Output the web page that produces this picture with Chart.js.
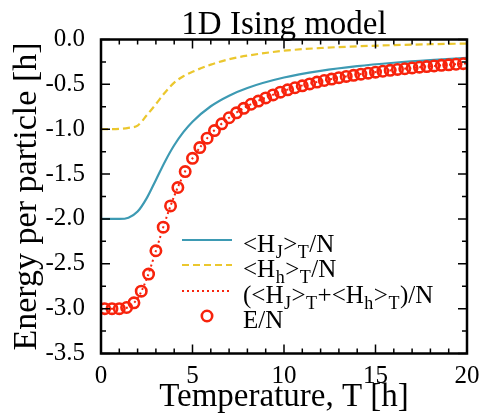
<!DOCTYPE html>
<html>
<head>
<meta charset="utf-8">
<script src="https://cdn.jsdelivr.net/npm/chart.js@4.4.0/dist/chart.umd.min.js"></script>
<style>
  html, body { margin: 0; padding: 0; background: #fff; }
  #wrap { width: 485px; height: 415px; position: relative; }
</style>
</head>
<body>
<div id="wrap"><canvas id="isingChart"></canvas></div>
<script>
// temperatures for the smooth curves
const lineTemps = [0, 0.5, 1, 1.5, 2, 2.5, 3, 3.5, 4, 4.5, 5, 6, 7, 8, 10, 12, 14, 16, 18, 20];
// <H_J>_T / N
const bondEnergy = [-2.0, -2.0, -2.0, -1.986, -1.918, -1.768, -1.565, -1.359, -1.179, -1.033, -0.916,
  -0.744, -0.626, -0.540, -0.424, -0.350, -0.297, -0.259, -0.229, -0.205];
// <H_h>_T / N
const fieldEnergy = [-1.0, -1.0, -0.997, -0.985, -0.96, -0.845, -0.72, -0.59, -0.48, -0.41, -0.36,
  -0.28, -0.22, -0.18, -0.125, -0.095, -0.076, -0.063, -0.053, -0.045];
// (<H_J>_T + <H_h>_T) / N
const sumEnergy = [-3.0, -3.0, -3.0, -2.981, -2.886, -2.666, -2.355, -2.031, -1.745, -1.511, -1.325,
  -1.054, -0.872, -0.742, -0.572, -0.465, -0.392, -0.339, -0.298, -0.266];

// E/N markers
const pointTemps = [0.2, 0.6, 1.0, 1.4, 1.8, 2.2, 2.6, 3.0, 3.4, 3.8, 4.2, 4.6, 5.0, 5.4, 5.8, 6.2, 6.6,
  7.0, 7.4, 7.8, 8.2, 8.6, 9.0, 9.4, 9.8, 10.2, 10.6, 11.0, 11.4, 11.8, 12.2, 12.6, 13.0, 13.4, 13.8,
  14.2, 14.6, 15.0, 15.4, 15.8, 16.2, 16.6, 17.0, 17.4, 17.8, 18.2, 18.6, 19.0, 19.4, 19.8];
const totalEnergy = [-3.0, -3.0, -3.0, -2.987, -2.935, -2.805, -2.615, -2.355, -2.092, -1.855, -1.65,
  -1.472, -1.325, -1.205, -1.10, -1.015, -0.94, -0.872, -0.817, -0.767, -0.722, -0.686, -0.651, -0.618,
  -0.587, -0.561, -0.538, -0.516, -0.495, -0.475, -0.457, -0.441, -0.426, -0.412, -0.399, -0.386,
  -0.375, -0.364, -0.354, -0.344, -0.334, -0.326, -0.317, -0.309, -0.3015, -0.295, -0.288, -0.282,
  -0.276, -0.270];

const xTicks = [0, 5, 10, 15, 20];
const yTicks = [-3.5, -3.0, -2.5, -2.0, -1.5, -1.0, -0.5, 0.0];
const chartTitle = '1D Ising model';

const SERIF = '"Liberation Serif", "Times New Roman", serif';
const TEAL = '#3d9ab3';
const GOLD = '#ebc72e';
const RED = '#f7230c';

const toXY = (xs, ys) => xs.map((x, i) => ({ x: x, y: ys[i] }));

// legend with subscripts, drawn on the canvas
const legendRows = [
  { parts: [['<H', 0], ['J', 1], ['>', 0], ['T', 1], ['/N', 0]], ds: 0 },
  { parts: [['<H', 0], ['h', 1], ['>', 0], ['T', 1], ['/N', 0]], ds: 1 },
  { parts: [['(<H', 0], ['J', 1], ['>', 0], ['T', 1], ['+<H', 0], ['h', 1], ['>', 0], ['T', 1], [')/N', 0]], ds: 2 },
  { parts: [['E/N', 0]], ds: 3 },
];

const legendPlugin = {
  id: 'isingLegend',
  afterDatasetsDraw(chart) {
    const ctx = chart.ctx;
    const size = 25;
    const x0 = 243;
    const baselines = [252, 277, 303, 328];
    ctx.save();
    legendRows.forEach((row, r) => {
      const ds = chart.data.datasets[row.ds];
      const yb = baselines[r];
      const ym = yb - 12;
      if (row.ds < 3) {
        ctx.beginPath();
        ctx.strokeStyle = ds.borderColor;
        ctx.lineWidth = ds.borderWidth;
        ctx.setLineDash(ds.borderDash || []);
        ctx.moveTo(182, ym);
        ctx.lineTo(232, ym);
        ctx.stroke();
        ctx.setLineDash([]);
      } else {
        ctx.beginPath();
        ctx.strokeStyle = ds.pointBorderColor;
        ctx.lineWidth = ds.pointBorderWidth;
        ctx.arc(207, ym, ds.pointRadius, 0, Math.PI * 2);
        ctx.stroke();
      }
      let x = x0;
      ctx.fillStyle = '#000';
      ctx.textBaseline = 'alphabetic';
      ctx.textAlign = 'left';
      row.parts.forEach(([txt, sub]) => {
        const fs = sub ? Math.round(size * 0.72) : size;
        ctx.font = fs + 'px ' + SERIF;
        ctx.fillText(txt, x, yb + (sub ? 6 : 0));
        x += ctx.measureText(txt).width + 0.5;
      });
    });
    ctx.restore();
  }
};

// title centred over the plot area
const titlePlugin = {
  id: 'areaTitle',
  afterDraw(chart) {
    const ctx = chart.ctx;
    const { left, right } = chart.chartArea;
    ctx.save();
    ctx.fillStyle = '#000';
    ctx.font = '33px ' + SERIF;
    ctx.textAlign = 'center';
    ctx.textBaseline = 'alphabetic';
    ctx.fillText(chartTitle, (left + right) / 2, 34);
    ctx.restore();
  }
};

// frame and inward ticks on all four sides
const framePlugin = {
  id: 'frameTicks',
  afterDraw(chart) {
    const ctx = chart.ctx;
    const { left, right, top, bottom } = chart.chartArea;
    const xs = chart.scales.x;
    const ys = chart.scales.y;
    ctx.save();
    ctx.strokeStyle = '#000';
    ctx.lineWidth = 1.5;
    ctx.beginPath();
    for (let v = 0; v <= 20; v += 1) {
      const px = xs.getPixelForValue(v);
      const len = v % 5 === 0 ? 9 : 5;
      ctx.moveTo(px, bottom); ctx.lineTo(px, bottom - len);
      ctx.moveTo(px, top); ctx.lineTo(px, top + len);
    }
    for (let k = 0; k <= 14; k++) {
      const v = -3.5 + k * 0.25;
      const py = ys.getPixelForValue(v);
      const len = k % 2 === 0 ? 9 : 5;
      ctx.moveTo(left, py); ctx.lineTo(left + len, py);
      ctx.moveTo(right, py); ctx.lineTo(right - len, py);
    }
    ctx.stroke();
    ctx.lineWidth = 2.5;
    ctx.strokeRect(left, top, right - left, bottom - top);
    ctx.restore();
  }
};

new Chart(document.getElementById('isingChart'), {
  type: 'scatter',
  data: {
    datasets: [
      {
        label: '<H_J>_T/N',
        data: toXY(lineTemps, bondEnergy),
        showLine: true,
        borderColor: TEAL,
        borderWidth: 2.2,
        pointRadius: 0,
        cubicInterpolationMode: 'monotone',
        order: 3,
      },
      {
        label: '<H_h>_T/N',
        data: toXY(lineTemps, fieldEnergy),
        showLine: true,
        borderColor: GOLD,
        borderWidth: 2.2,
        borderDash: [7, 4],
        pointRadius: 0,
        cubicInterpolationMode: 'monotone',
        order: 2,
      },
      {
        label: '(<H_J>_T+<H_h>_T)/N',
        data: toXY(lineTemps, sumEnergy),
        showLine: true,
        borderColor: RED,
        borderWidth: 2,
        borderDash: [2, 3],
        pointRadius: 0,
        cubicInterpolationMode: 'monotone',
        order: 1,
      },
      {
        label: 'E/N',
        data: toXY(pointTemps, totalEnergy),
        showLine: false,
        pointRadius: 5.2,
        pointBorderWidth: 2.6,
        pointBorderColor: RED,
        pointBackgroundColor: 'rgba(0,0,0,0)',
        order: 0,
      },
    ],
  },
  options: {
    responsive: true,
    maintainAspectRatio: false,
    animation: false,
    layout: { padding: { left: 0, right: 18, top: 39.5, bottom: 0 } },
    plugins: {
      legend: { display: false },
      tooltip: { enabled: false },
      title: { display: false },
    },
    scales: {
      x: {
        type: 'linear',
        min: 0,
        max: 20,
        afterBuildTicks: (s) => { s.ticks = xTicks.map((v) => ({ value: v })); },
        afterFit: (s) => { s.height = 61.5; },
        ticks: {
          color: '#000',
          font: { family: SERIF, size: 25 },
          padding: 0,
          maxRotation: 0,
          callback: (v) => String(v),
        },
        grid: { display: false },
        border: { display: false },
        title: {
          display: true,
          text: 'Temperature, T [h]',
          color: '#000',
          font: { family: SERIF, size: 33, lineHeight: 1.1 },
          padding: { top: 0, bottom: 0 },
        },
      },
      y: {
        type: 'linear',
        min: -3.5,
        max: 0,
        afterBuildTicks: (s) => { s.ticks = yTicks.map((v) => ({ value: v })); },
        afterFit: (s) => { s.width = 101; },
        ticks: {
          color: '#000',
          font: { family: SERIF, size: 25 },
          padding: 8,
          callback: (v) => v.toFixed(1),
        },
        grid: { display: false },
        border: { display: false },
        title: {
          display: true,
          text: 'Energy per particle [h]',
          color: '#000',
          font: { family: SERIF, size: 34, lineHeight: 1.1 },
          padding: { top: 8, bottom: 0 },
        },
      },
    },
  },
  plugins: [legendPlugin, titlePlugin, framePlugin],
});
</script>
</body>
</html>
